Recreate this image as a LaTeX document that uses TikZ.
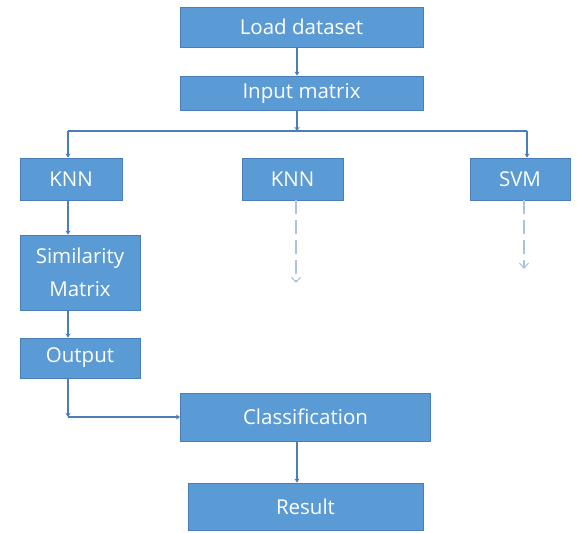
\documentclass[tikz,border=0pt]{standalone}
\usepackage{fontspec}
\setmainfont{Open Sans}
\usetikzlibrary{arrows.meta}
\definecolor{boxfill}{HTML}{5B9BD5}
\definecolor{boxline}{HTML}{4A7EBB}
\definecolor{dashline}{HTML}{A8C3E6}
\tikzset{
  stage/.style={rectangle, draw=boxline, line width=0.8pt, fill=boxfill,
    text=white, font=\fontsize{20.5}{24}\selectfont, inner sep=0pt, align=center},
  link/.style={draw=boxline, line width=2.2pt},
  arr/.style={link, -{Stealth[length=4pt,width=5pt]}},
  hint/.style={draw=dashline, line width=1.1pt, dash pattern=on 14pt off 6pt,
    -{Straight Barb[length=5pt,width=9pt,line width=1.1pt]}}
}
\begin{document}
\begin{tikzpicture}[x=1pt,y=-1pt]
\useasboundingbox (0,0) rectangle (577,532);
% boxes
\node[stage, minimum width=243pt, minimum height=40pt] (load)  at (301.5,27)  {Load dataset};
\node[stage, minimum width=243pt, minimum height=34pt] (input) at (301.5,93)  {Input matrix};
\node[stage, minimum width=102pt, minimum height=42pt] (knnA)  at (71,179)    {KNN};
\node[stage, minimum width=101pt, minimum height=42pt] (knnB)  at (292.5,179) {KNN};
\node[stage, minimum width=100pt, minimum height=42pt] (svm)   at (520,179)   {SVM};
\node[stage, minimum width=120pt, minimum height=75pt] (sim)   at (80,272.5)  {Similarity\\[9pt]Matrix};
\node[stage, minimum width=120pt, minimum height=40pt] (out)   at (80,358)    {Output};
\node[stage, minimum width=250pt, minimum height=48pt] (cls)   at (305.5,417) {Classification};
\node[stage, minimum width=235pt, minimum height=47pt] (res)   at (305.5,506.5) {Result};
% branch points
\coordinate (busL) at (68,131);
\coordinate (busM) at (297,131);
\coordinate (busR) at (527,131);
\coordinate (bend) at (68,417);
\coordinate (endB) at (296,283);
\coordinate (endS) at (524,269);
% connectors
\draw[arr] (load.south -| busM) -- (input.north -| busM);
\draw[arr] (input.south -| busM) -- (busM);
\draw[link] (busL) -- (busR);
\draw[arr] (busL) -- (knnA.north -| busL);
\draw[arr] (busR) -- (svm.north -| busR);
\draw[arr] (knnA.south -| busL) -- (sim.north -| busL);
\draw[arr] (sim.south -| busL) -- (out.north -| busL);
\draw[arr] (out.south -| bend) -- (bend);
\draw[arr] (bend) -- (cls.west);
\draw[arr] (cls.south -| busM) -- (res.north -| busM);
\draw[hint] (knnB.south -| endB) -- (endB);
\draw[hint] (svm.south -| endS) -- (endS);
\end{tikzpicture}
\end{document}
